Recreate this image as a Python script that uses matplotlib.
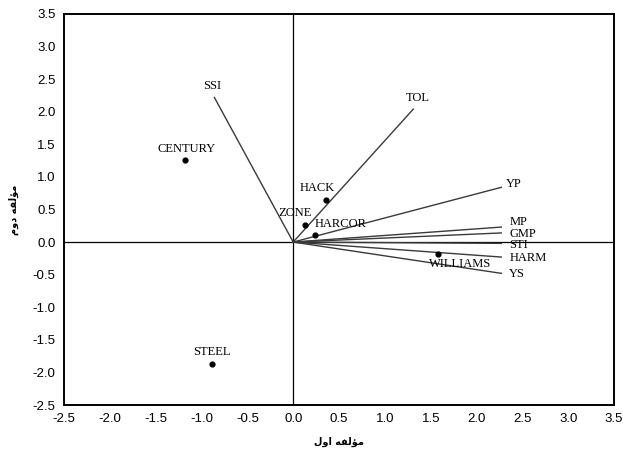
import matplotlib
matplotlib.use("Agg")
import matplotlib.pyplot as plt

# variable vectors (biplot loadings)
vec_names = ["SSI", "TOL", "YP", "MP", "GMP", "STI", "HARM", "YS"]
vec_x = [-0.86, 1.31, 2.27, 2.27, 2.27, 2.27, 2.27, 2.27]
vec_y = [2.22, 2.04, 0.84, 0.23, 0.14, -0.02, -0.23, -0.48]

# genotype scores
pt_names = ["CENTURY", "HACK", "ZONE", "HARCOR", "WILLIAMS", "STEEL"]
pt_x = [-1.18, 0.36, 0.13, 0.24, 1.58, -0.89]
pt_y = [1.26, 0.64, 0.26, 0.11, -0.18, -1.87]

ticks = [-2.5, -2.0, -1.5, -1.0, -0.5, 0.0, 0.5, 1.0, 1.5, 2.0, 2.5, 3.0, 3.5]

# axis titles (Persian, written in presentation forms, visual order)
xlabel = "\uFEDD\uFEED\uFE8D \uFEEA\uFED4\uFEDF\uFE86\uFEE3"   # مؤلفه اول
ylabel = "\uFEE1\uFEED\uFEA9 \uFEEA\uFED4\uFEDF\uFE86\uFEE3"   # مؤلفه دوم

# label offsets in pixels: (dx, dy, ha, va)
vec_lab = {"SSI": (-2, 5, "center", "bottom"), "TOL": (-8, 5, "left", "bottom"),
           "YP": (5, 3, "left", "center"), "MP": (8, 5, "left", "center"),
           "GMP": (8, -1, "left", "center"), "STI": (8, -2, "left", "center"),
           "HARM": (8, -1, "left", "center"), "YS": (8, -1, "left", "center")}
pt_lab = {"CENTURY": (2, 5, "center", "bottom"), "HACK": (-9, 6, "center", "bottom"),
          "ZONE": (-10, 6, "center", "bottom"), "HARCOR": (-1, 5, "left", "bottom"),
          "WILLIAMS": (22, -4, "center", "top"), "STEEL": (0, 6, "center", "bottom")}

fig = plt.figure(figsize=(6.23, 4.5), dpi=100)
ax = fig.add_axes([0.1027, 0.1, 0.883, 0.869])

ax.axhline(0, color="black", lw=0.9, zorder=1)
ax.axvline(0, color="black", lw=0.9, zorder=1)

serif = "Liberation Serif"
for name, x, y in zip(vec_names, vec_x, vec_y):
    ax.plot([0, x], [0, y], color="#3a3a3a", lw=1.0, zorder=2)
    dx, dy, ha, va = vec_lab[name]
    ax.annotate(name, (x, y), xytext=(dx, dy), textcoords="offset pixels",
                ha=ha, va=va, fontsize=9, family=serif)

ax.scatter(pt_x, pt_y, s=12, color="black", zorder=3)
for name, x, y in zip(pt_names, pt_x, pt_y):
    dx, dy, ha, va = pt_lab[name]
    ax.annotate(name, (x, y), xytext=(dx, dy), textcoords="offset pixels",
                ha=ha, va=va, fontsize=9, family=serif)

ax.set_xlim(-2.5, 3.5)
ax.set_ylim(-2.5, 3.5)
ax.set_xticks(ticks)
ax.set_yticks(ticks)
ax.set_xticklabels(["%.1f" % t for t in ticks], family="Liberation Sans", fontsize=9.5)
ax.set_yticklabels(["%.1f" % t for t in ticks], family="Liberation Sans", fontsize=9.5)
ax.tick_params(length=0, pad=6)
for sp in ax.spines.values():
    sp.set_linewidth(1.4)

ax.set_xlabel(xlabel, family="DejaVu Sans", fontsize=7, fontweight="bold", labelpad=8)
ax.set_ylabel(ylabel, family="DejaVu Sans", fontsize=7, fontweight="bold", labelpad=10)

fig.savefig("out.png", dpi=100)
